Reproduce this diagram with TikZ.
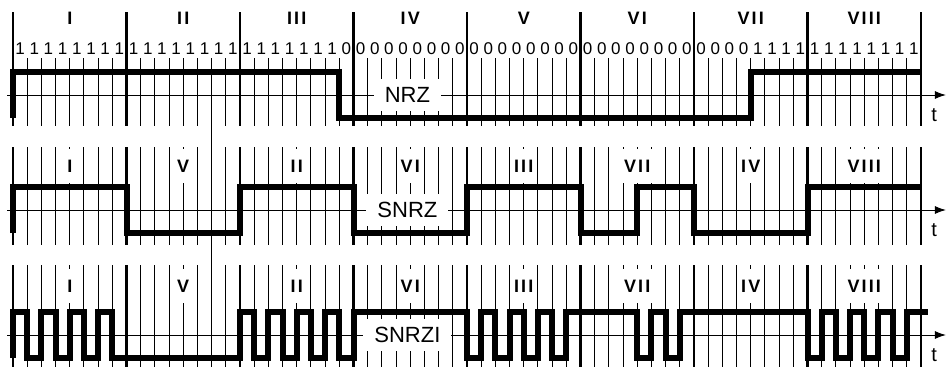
\documentclass[tikz,border=0pt]{standalone}
\usepackage{fontspec}
\setmainfont{Liberation Sans}
\newfontfamily\romanfont[LetterSpace=12]{Liberation Sans Bold}
\usepackage{tikz}
\usetikzlibrary{arrows.meta}
% bit levels, 8 per frame
\newcommand{\nrzbits}{1,1,1,1,1,1,1,1,1,1,1,1,1,1,1,1,1,1,1,1,1,1,1,0,0,0,0,0,0,0,0,0,0,0,0,0,0,0,0,0,0,0,0,0,0,0,0,0,0,0,0,0,1,1,1,1,1,1,1,1,1,1,1,1}
\newcommand{\snrzbits}{1,1,1,1,1,1,1,1,0,0,0,0,0,0,0,0,1,1,1,1,1,1,1,1,0,0,0,0,0,0,0,0,1,1,1,1,1,1,1,1,0,0,0,0,1,1,1,1,0,0,0,0,0,0,0,0,1,1,1,1,1,1,1,1}
\newcommand{\snrzibits}{1,0,1,0,1,0,1,0,0,0,0,0,0,0,0,0,1,0,1,0,1,0,1,0,1,1,1,1,1,1,1,1,0,1,0,1,0,1,0,1,1,1,1,1,0,1,0,1,1,1,1,1,1,1,1,1,0,1,0,1,0,1,0,1}
\tikzset{
	frameline/.style={line width=2.4pt},
	tickline/.style ={line width=0.9pt},
	axisline/.style ={line width=1pt, -{Latex[length=11pt, width=8pt]}},
	wave/.style     ={line width=6pt, line join=miter},
	% labels
	framelbl/.style ={font=\romanfont\fontsize{18}{18}\selectfont, fill=white, inner xsep=3pt, inner ysep=11pt},
	bitlbl/.style   ={font=\fontsize{17}{17}\selectfont, inner sep=0pt},
	signame/.style  ={font=\fontsize{22}{22}\selectfont, fill=white, inner xsep=11pt, inner ysep=8pt},
	tlbl/.style     ={font=\fontsize{20}{20}\selectfont, inner sep=0pt},
}
\begin{document}
\begin{tikzpicture}[x=14.1875pt, y=-1pt]
	\useasboundingbox (-0.9163,0) rectangle (65.7621,367);
	\foreach \r/\ytop/\ytick/\ybot/\ya/\nm in {1/12/58/126/95/NRZ, 2/147/147/245/210/SNRZ, 3/265/265/367/335/SNRZI} {
		\foreach \n in {1,...,63}
			\draw[tickline] (\n,\ytick) -- (\n,\ybot);
		\foreach \k in {0,...,8}
			\draw[frameline] (8*\k,\ytop) -- (8*\k,\ybot);
		\coordinate (ax\r-s) at (-0.42,\ya);
		\coordinate (ax\r-e) at (65.76,\ya);
		\draw[axisline] (ax\r-s) -- (ax\r-e);
		\node[signame] (name\r) at (27.8,\ya) {\nm};
		\node[tlbl] (t\r) at (64.92,\ya+20) {t};
	}
	\draw[tickline] (14,126) -- (14,337);
	\foreach \t [count=\k] in {I,II,III,IV,V,VI,VII,VIII}
		\node[framelbl] (f1-\k) at (8*\k-4,18) {\t};
	\foreach \t [count=\k] in {I,V,II,VI,III,VII,IV,VIII} {
		\node[framelbl] (f2-\k) at (8*\k-4,166) {\t};
		\node[framelbl] (f3-\k) at (8*\k-4,286) {\t};
	}
	\foreach \l [count=\n] in \nrzbits
		\node[bitlbl] (bit\n) at (\n-0.5,48.5) {\l};
	\draw[wave] (0,118) \foreach \l [count=\n] in \nrzbits { |- (\n,{118-46*\l}) };
	\draw[wave] (0,233) \foreach \l [count=\n] in \snrzbits { |- (\n,{233-46*\l}) };
	\draw[wave] (0,358) \foreach \l [count=\n] in \snrzibits { |- (\n,{358-46*\l}) } -- ++(0.5,0);
\end{tikzpicture}
\end{document}
